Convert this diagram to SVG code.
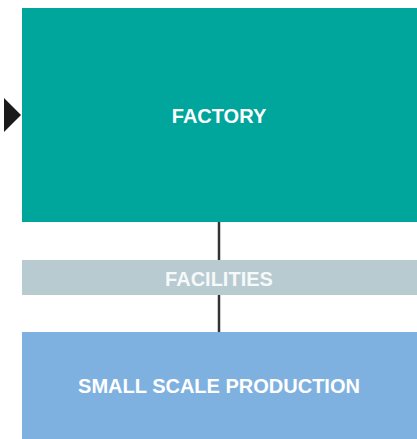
<svg xmlns="http://www.w3.org/2000/svg" width="417" height="439" viewBox="0 0 417 439">
<style>
.lbl{font-family:"Liberation Sans",Arial,sans-serif;font-weight:bold;fill:#fff;text-anchor:middle;font-size:20px}
.conn{stroke:#333;stroke-width:2.5;fill:none}
</style>
<rect width="417" height="439" fill="#fff"/>
<g id="connectors">
<line class="conn" x1="219" y1="222" x2="219" y2="260"/>
<line class="conn" x1="219" y1="295" x2="219" y2="332"/>
<polygon points="4,98 21,115 4,132" fill="#1a1a1a"/>
</g>
<g id="factory">
<rect x="22" y="8" width="395" height="214" fill="#00A59C"/>
<text class="lbl" x="219" y="123">FACTORY</text>
</g>
<g id="facilities">
<rect x="22" y="260" width="395" height="35" fill="#B8CBD0"/>
<text class="lbl" x="219" y="286" fill-opacity="0.9">FACILITIES</text>
</g>
<g id="small">
<rect x="22" y="332" width="395" height="107" fill="#7FB1E0"/>
<text class="lbl" x="219" y="393">SMALL SCALE PRODUCTION</text>
</g>
</svg>
